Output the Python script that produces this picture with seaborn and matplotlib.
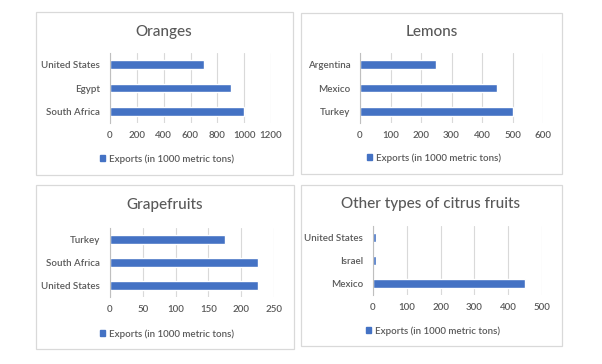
import matplotlib
matplotlib.use('Agg')
import matplotlib.pyplot as plt
from matplotlib.patches import Rectangle, Patch
import pandas as pd
import seaborn as sns

# data
oranges_countries = ['United States', 'Egypt', 'South Africa']
oranges_exports = [700, 900, 1000]
lemons_countries = ['Argentina', 'Mexico', 'Turkey']
lemons_exports = [250, 450, 500]
grapefruit_countries = ['Turkey', 'South Africa', 'United States']
grapefruit_exports = [175, 225, 225]
other_countries = ['United States', 'Israel', 'Mexico']
other_exports = [10, 10, 450]

oranges_ticks = [0, 200, 400, 600, 800, 1000, 1200]
lemons_ticks = [0, 100, 200, 300, 400, 500, 600]
grapefruit_ticks = [0, 50, 100, 150, 200, 250]
other_ticks = [0, 100, 200, 300, 400, 500]

titles = ['Oranges', 'Lemons', 'Grapefruits', 'Other types of citrus fruits']
legend_label = 'Exports (in 1000 metric tons)'

BLUE = '#4472C4'
GRID = '#D9D9D9'
TEXT = '#595959'
W, H = 602, 364

sns.set_style('white')
plt.rcParams['font.family'] = ['Lato', 'DejaVu Sans']

fig = plt.figure(figsize=(W / 100, H / 100), dpi=100)


def fx(x):
    return x / W


def fy(y):
    return 1 - y / H


# pixel boxes: panel border, plot area, title centre, legend centre
layout = [
    dict(panel=(36, 12, 293, 175), plot=(110, 53, 271, 123), title=(164, 32), leg=(167, 159)),
    dict(panel=(301, 13, 562, 174), plot=(360, 53, 543, 123), title=(432, 32), leg=(434, 158)),
    dict(panel=(36, 185, 294, 349), plot=(110, 228, 274, 297), title=(165, 205), leg=(167, 334)),
    dict(panel=(301, 185, 562, 346), plot=(373, 226, 542, 295), title=(431, 204), leg=(433, 331)),
]

charts = [
    (oranges_countries, oranges_exports, oranges_ticks),
    (lemons_countries, lemons_exports, lemons_ticks),
    (grapefruit_countries, grapefruit_exports, grapefruit_ticks),
    (other_countries, other_exports, other_ticks),
]

for (cats, vals, ticks), box, title in zip(charts, layout, titles):
    x0, y0, x1, y1 = box['panel']
    fig.add_artist(Rectangle((fx(x0), fy(y1)), (x1 - x0) / W, (y1 - y0) / H,
                             transform=fig.transFigure, fill=False,
                             ec=GRID, lw=0.9))

    px0, py0, px1, py1 = box['plot']
    ax = fig.add_axes([fx(px0), fy(py1), (px1 - px0) / W, (py1 - py0) / H])
    df = pd.DataFrame({'country': cats, 'exports': vals})
    sns.barplot(data=df, x='exports', y='country', orient='h', color=BLUE,
                saturation=1, width=0.36, ax=ax)

    ax.set_xlim(0, ticks[-1])
    ax.set_xticks(ticks)
    ax.set_ylim(2.5, -0.5)
    ax.set_xlabel('')
    ax.set_ylabel('')
    ax.xaxis.grid(True, color=GRID, lw=0.8)
    ax.set_axisbelow(True)
    for s in ['top', 'right', 'bottom']:
        ax.spines[s].set_visible(False)
    ax.spines['left'].set_color('#BFBFBF')
    ax.spines['left'].set_linewidth(0.8)
    ax.set_yticks([-0.5, 0.5, 1.5, 2.5], minor=True)
    ax.tick_params(axis='x', length=0, pad=6, labelsize=7, labelcolor=TEXT)
    ax.tick_params(axis='y', which='major', length=0, pad=7, labelsize=7, labelcolor=TEXT)
    ax.tick_params(axis='y', which='minor', length=3, color='#BFBFBF', width=0.8)
    for lab in ax.get_xticklabels() + ax.get_yticklabels():
        lab.set_fontweight('semibold')

    tx, ty = box['title']
    fig.text(fx(tx), fy(ty), title, ha='center', va='center', fontsize=11,
             color=TEXT, fontweight='medium')

    lx, ly = box['leg']
    fig.legend(handles=[Patch(color=BLUE)], labels=[legend_label], loc='center',
               bbox_to_anchor=(fx(lx), fy(ly)), frameon=False,
               prop={'size': 7, 'weight': 'semibold'},
               handlelength=0.6, handleheight=0.6, handletextpad=0.4,
               labelcolor=TEXT, borderpad=0)

fig.savefig('out.png', dpi=100)
